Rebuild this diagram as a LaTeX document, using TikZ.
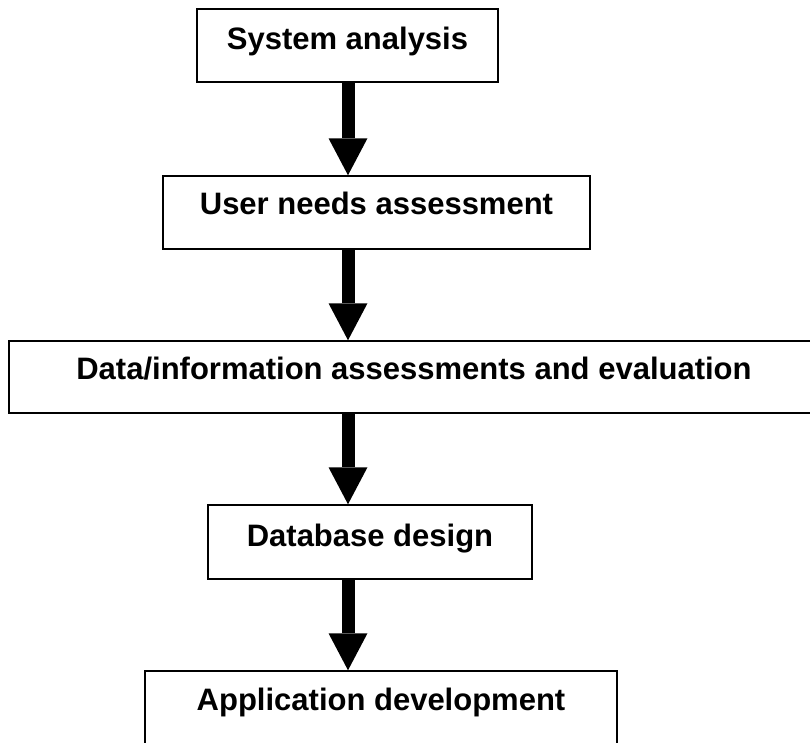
\documentclass[tikz,border=0pt]{standalone}
\usepackage{fontspec}
\setmainfont{Liberation Sans}
\usetikzlibrary{arrows.meta,calc}
\begin{document}
\begin{tikzpicture}[x=1pt,y=-1pt,
  box/.style={draw=black,line width=1.5pt,inner sep=0pt,fill=white},
  lbl/.style={inner sep=0pt,anchor=base,font=\fontsize{31pt}{36pt}\selectfont\bfseries},
  bigarrow/.style={line width=13pt,-{Triangle[length=37pt,width=39pt,line width=0pt]}}]
\useasboundingbox (0,0) rectangle (810,742);
\clip (0,0) rectangle (810,742);
\fill[white] (0,0) rectangle (810,742);
% boxes
\node[box,minimum width=301pt,minimum height=73pt] (b1) at (347.5,45.5) {};
\node[box,minimum width=427pt,minimum height=73pt] (b2) at (376.5,212.5) {};
\node[box,minimum width=810pt,minimum height=72pt] (b3) at (414,377) {};
\node[box,minimum width=324pt,minimum height=74pt] (b4) at (370,542) {};
\node[box,minimum width=472pt,minimum height=100pt] (b5) at (381,721) {};
% labels
\node[lbl] (t1) at ($(b1.north)+(0,41)$) {System analysis};
\node[lbl] (t2) at ($(b2.north)+(0,39)$) {User needs assessment};
\node[lbl] (t3) at ($(b3.north)+(0,39)$) {Data/information assessments and evaluation};
\node[lbl] (t4) at ($(b4.north)+(0,42)$) {Database design};
\node[lbl] (t5) at ($(b5.north)+(0,40)$) {Application development};
% arrows
\coordinate (ax) at (348,0);
\draw[bigarrow] (b1.south -| ax) -- (b2.north -| ax);
\draw[bigarrow] (b2.south -| ax) -- (b3.north -| ax);
\draw[bigarrow] (b3.south -| ax) -- (b4.north -| ax);
\draw[bigarrow] (b4.south -| ax) -- (b5.north -| ax);
\end{tikzpicture}
\end{document}
